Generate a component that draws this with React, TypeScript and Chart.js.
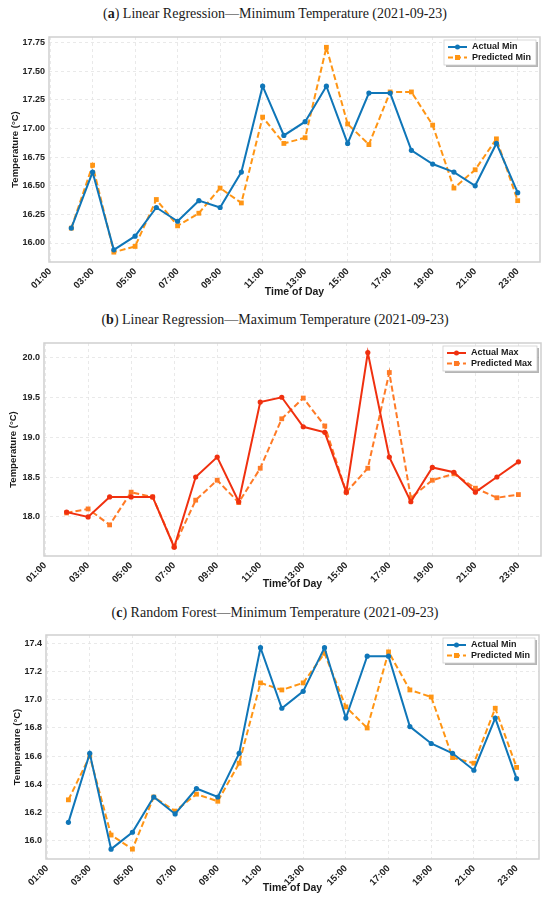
import { useEffect, useRef } from "react";
import { Chart, registerables } from "chart.js";

Chart.register(...registerables);
Chart.defaults.font.family = "'Liberation Sans', Arial, sans-serif";

// hours of the day that carry a value
const hours = [2, 3, 4, 5, 6, 7, 8, 9, 10, 11, 12, 13, 14, 15, 16, 17, 18, 19, 20, 21, 22, 23];
const hourTicks = [1, 3, 5, 7, 9, 11, 13, 15, 17, 19, 21, 23];

const actualMin = [16.13, 16.62, 15.94, 16.06, 16.31, 16.19, 16.37, 16.31, 16.62, 17.37, 16.94, 17.06, 17.37, 16.87, 17.31, 17.31, 16.81, 16.69, 16.62, 16.5, 16.87, 16.44];
const lrPredictedMin = [16.13, 16.68, 15.92, 15.97, 16.38, 16.15, 16.26, 16.48, 16.35, 17.1, 16.87, 16.92, 17.71, 17.04, 16.86, 17.32, 17.32, 17.03, 16.48, 16.64, 16.91, 16.37];
const actualMax = [18.06, 18.0, 18.25, 18.25, 18.25, 17.62, 18.5, 18.75, 18.19, 19.44, 19.5, 19.13, 19.06, 18.31, 20.06, 18.75, 18.19, 18.62, 18.56, 18.31, 18.5, 18.69];
const lrPredictedMax = [18.05, 18.1, 17.9, 18.31, 18.25, 17.63, 18.21, 18.46, 18.18, 18.61, 19.23, 19.49, 19.14, 18.31, 18.61, 19.81, 18.24, 18.46, 18.54, 18.36, 18.24, 18.28];
const rfPredictedMin = [16.29, 16.6, 16.04, 15.94, 16.31, 16.21, 16.33, 16.28, 16.55, 17.12, 17.07, 17.12, 17.33, 16.95, 16.8, 17.34, 17.07, 17.02, 16.59, 16.55, 16.94, 16.52];

const minTicksA = [16.0, 16.25, 16.5, 16.75, 17.0, 17.25, 17.5, 17.75];
const maxTicksB = [18.0, 18.5, 19.0, 19.5, 20.0];
const minTicksC = [16.0, 16.2, 16.4, 16.6, 16.8, 17.0, 17.2, 17.4];

const BLUE = "#0f76b8";
const ORANGE = "#ff9514";
const RED = "#f0300f";
const RED_ORANGE = "#ff7a26";

interface Series {
  label: string;
  data: number[];
  color: string;
  dashed: boolean;
}

interface PanelProps {
  letter: string;
  caption: string;
  titleY: number;
  top: number;
  height: number;
  plot: { left: number; right: number; top: number; bottom: number };
  xTitleY: number;
  yTitleX: number;
  yMin: number;
  yMax: number;
  yTicks: number[];
  decimals: number;
  series: Series[];
}

const W = 550;

// grey frame round the plot area plus the two axis titles, drawn at fixed canvas spots
function makeFrame(p: PanelProps) {
  return {
    id: "frame",
    afterDraw(chart: Chart) {
      const { ctx, chartArea: a } = chart;
      ctx.save();
      ctx.strokeStyle = "#cfcfcf";
      ctx.lineWidth = 1.5;
      ctx.strokeRect(a.left, a.top, a.right - a.left, a.bottom - a.top);

      ctx.fillStyle = "#1a1a1a";
      ctx.textAlign = "center";
      ctx.textBaseline = "middle";
      ctx.font = "bold 10.5px 'Liberation Sans', Arial, sans-serif";
      ctx.fillText("Time of Day", (a.left + a.right) / 2, p.xTitleY);

      ctx.font = "bold 9.5px 'Liberation Sans', Arial, sans-serif";
      ctx.translate(p.yTitleX, (a.top + a.bottom) / 2);
      ctx.rotate(-Math.PI / 2);
      ctx.fillText("Temperature (°C)", 0, 0);
      ctx.restore();
    },
  };
}

function makeLegend(series: Series[]) {
  return {
    id: "boxLegend",
    afterDraw(chart: Chart) {
      const { ctx, chartArea: a } = chart;
      ctx.save();
      ctx.font = "bold 9px 'Liberation Sans', Arial, sans-serif";
      const textW = Math.max(...series.map((s) => ctx.measureText(s.label).width));
      const w = 28 + textW + 5;
      const h = 25;
      const x = a.right - 4 - w;
      const y = a.top + 3;
      ctx.fillStyle = "rgba(120,120,120,0.55)";
      ctx.fillRect(x + 2, y + 2, w, h);
      ctx.fillStyle = "#fff";
      ctx.fillRect(x, y, w, h);
      ctx.strokeStyle = "#d0d0d0";
      ctx.lineWidth = 0.8;
      ctx.strokeRect(x, y, w, h);
      series.forEach((s, i) => {
        const ry = y + 7 + i * 10.5;
        ctx.strokeStyle = s.color;
        ctx.fillStyle = s.color;
        ctx.lineWidth = 2;
        ctx.setLineDash(s.dashed ? [5, 3] : []);
        ctx.beginPath();
        ctx.moveTo(x + 4, ry);
        ctx.lineTo(x + 23, ry);
        ctx.stroke();
        ctx.setLineDash([]);
        if (s.dashed) {
          ctx.fillRect(x + 11, ry - 2.5, 5, 5);
        } else {
          ctx.beginPath();
          ctx.arc(x + 13.5, ry, 2.5, 0, Math.PI * 2);
          ctx.fill();
        }
        ctx.fillStyle = "#1a1a1a";
        ctx.textBaseline = "middle";
        ctx.textAlign = "left";
        ctx.fillText(s.label, x + 28, ry);
      });
      ctx.restore();
    },
  };
}

function Panel(p: PanelProps) {
  const canvasRef = useRef<HTMLCanvasElement | null>(null);

  useEffect(() => {
    const ctx = canvasRef.current?.getContext("2d");
    if (!ctx) return;

    const chart = new Chart(ctx, {
      type: "line",
      data: {
        datasets: p.series.map((s) => ({
          label: s.label,
          data: hours.map((h, i) => ({ x: h, y: s.data[i] })),
          borderColor: s.color,
          backgroundColor: s.color,
          borderWidth: 2,
          borderDash: s.dashed ? [6, 3] : [],
          pointStyle: s.dashed ? "rect" : "circle",
          pointRadius: s.dashed ? 3.4 : 2.6,
          pointBorderWidth: 0,
          tension: 0,
        })),
      },
      options: {
        animation: false,
        responsive: false,
        events: [],
        layout: {
          padding: { top: p.plot.top, right: W - p.plot.right, left: 0, bottom: 0 },
        },
        plugins: {
          legend: { display: false },
          tooltip: { enabled: false },
        },
        scales: {
          x: {
            type: "linear",
            min: 0.95,
            max: 24.05,
            afterBuildTicks: (s: any) => {
              s.ticks = hourTicks.map((v) => ({ value: v }));
            },
            afterFit: (s: any) => {
              s.height = p.height - p.plot.bottom;
            },
            grid: { color: "#e4e4e4", lineWidth: 0.8, drawTicks: false },
            border: { display: false, dash: [3, 3] },
            ticks: {
              autoSkip: false,
              minRotation: 45,
              maxRotation: 45,
              padding: 4,
              color: "#222",
              font: { size: 9.5, weight: "bold" },
              callback: (v: any) => String(v).padStart(2, "0") + ":00",
            },
          },
          y: {
            min: p.yMin,
            max: p.yMax,
            afterBuildTicks: (s: any) => {
              s.ticks = p.yTicks.map((v) => ({ value: v }));
            },
            afterFit: (s: any) => {
              s.width = p.plot.left;
            },
            grid: { color: "#e4e4e4", lineWidth: 0.8, drawTicks: false },
            border: { display: false, dash: [3, 3] },
            ticks: {
              padding: 4,
              color: "#222",
              font: { size: 9, weight: "bold" },
              callback: (v: any) => Number(v).toFixed(p.decimals),
            },
          },
        },
      },
      plugins: [makeFrame(p), makeLegend(p.series)],
    });

    return () => {
      chart.destroy();
    };
  }, [p]);

  return (
    <>
      <div
        style={{
          position: "absolute",
          left: 0,
          top: p.titleY - 9,
          width: W,
          height: 18,
          lineHeight: "18px",
          textAlign: "center",
          fontFamily: "'Liberation Serif', 'DejaVu Serif', serif",
          fontSize: 14,
          color: "#1a1a1a",
          whiteSpace: "nowrap",
        }}
      >
        (<b>{p.letter}</b>) {p.caption}
      </div>
      <canvas
        ref={canvasRef}
        width={W}
        height={p.height}
        style={{ position: "absolute", left: 0, top: p.top, width: W, height: p.height }}
      />
    </>
  );
}

const panelA: PanelProps = {
  letter: "a",
  caption: "Linear Regression\u2014Minimum Temperature (2021-09-23)",
  titleY: 14,
  top: 22,
  height: 278,
  plot: { left: 49, right: 540, top: 15, bottom: 240 },
  xTitleY: 270,
  yTitleX: 15,
  yMin: 15.834,
  yMax: 17.8,
  yTicks: minTicksA,
  decimals: 2,
  series: [
    { label: "Actual Min", data: actualMin, color: BLUE, dashed: false },
    { label: "Predicted Min", data: lrPredictedMin, color: ORANGE, dashed: true },
  ],
};

const panelB: PanelProps = {
  letter: "b",
  caption: "Linear Regression\u2014Maximum Temperature (2021-09-23)",
  titleY: 320,
  top: 330,
  height: 270,
  plot: { left: 44, right: 541, top: 13, bottom: 226 },
  xTitleY: 254,
  yTitleX: 13,
  yMin: 17.51,
  yMax: 20.18,
  yTicks: maxTicksB,
  decimals: 1,
  series: [
    { label: "Actual Max", data: actualMax, color: RED, dashed: false },
    { label: "Predicted Max", data: lrPredictedMax, color: RED_ORANGE, dashed: true },
  ],
};

const panelC: PanelProps = {
  letter: "c",
  caption: "Random Forest\u2014Minimum Temperature (2021-09-23)",
  titleY: 613,
  top: 622,
  height: 280,
  plot: { left: 46, right: 539, top: 13, bottom: 237 },
  xTitleY: 266,
  yTitleX: 17,
  yMin: 15.87,
  yMax: 17.46,
  yTicks: minTicksC,
  decimals: 1,
  series: [
    { label: "Actual Min", data: actualMin, color: BLUE, dashed: false },
    { label: "Predicted Min", data: rfPredictedMin, color: ORANGE, dashed: true },
  ],
};

export default function App() {
  return (
    <div style={{ position: "absolute", left: 0, top: 0, width: W, height: 902, background: "#fff" }}>
      <Panel {...panelA} />
      <Panel {...panelB} />
      <Panel {...panelC} />
    </div>
  );
}
